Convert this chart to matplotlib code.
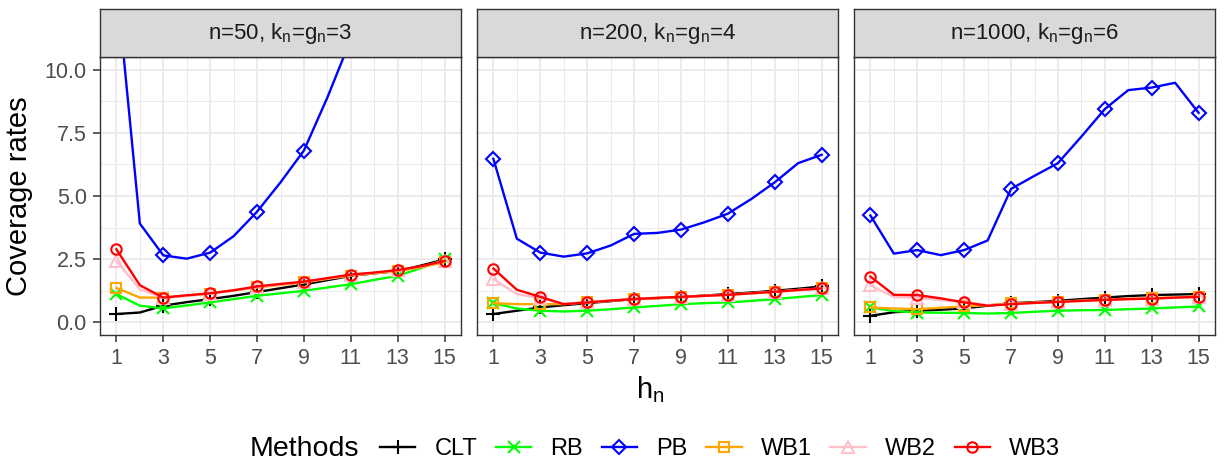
import numpy as np
import matplotlib
matplotlib.use("Agg")
import matplotlib.pyplot as plt
from matplotlib.lines import Line2D

plt.rcParams['font.family'] = ['Liberation Sans', 'DejaVu Sans']
plt.rcParams['mathtext.fontset'] = 'custom'
plt.rcParams['mathtext.rm'] = 'Liberation Sans'

h = np.arange(1, 16)

titles = [r'n=50, k$_\mathregular{n}$=g$_\mathregular{n}$=3',
          r'n=200, k$_\mathregular{n}$=g$_\mathregular{n}$=4',
          r'n=1000, k$_\mathregular{n}$=g$_\mathregular{n}$=6']
methods = ['CLT', 'RB', 'PB', 'WB1', 'WB2', 'WB3']

# n=50
clt1 = [0.33, 0.39, 0.66, 0.80, 0.92, 1.05, 1.20, 1.35, 1.50, 1.67, 1.84, 1.94, 2.03, 2.25, 2.49]
rb1 = [1.12, 0.66, 0.55, 0.67, 0.79, 0.92, 1.05, 1.15, 1.25, 1.38, 1.51, 1.68, 1.84, 2.15, 2.49]
pb1 = [13.5, 3.91, 2.65, 2.52, 2.76, 3.41, 4.38, 5.54, 6.80, 8.9, 11.2, 13.8, 16.5, 19.5, 23.0]
wb1_1 = [1.36, 0.98, 0.98, 1.06, 1.14, 1.26, 1.38, 1.48, 1.58, 1.72, 1.85, 1.94, 2.02, 2.18, 2.38]
wb2_1 = [2.43, 1.31, 0.97, 1.05, 1.14, 1.26, 1.40, 1.50, 1.60, 1.74, 1.88, 1.96, 2.06, 2.21, 2.43]
wb3_1 = [2.89, 1.47, 0.98, 1.07, 1.15, 1.27, 1.42, 1.52, 1.61, 1.75, 1.89, 1.97, 2.07, 2.22, 2.43]

# n=200
clt2 = [0.33, 0.46, 0.59, 0.68, 0.76, 0.84, 0.92, 0.96, 1.00, 1.06, 1.12, 1.18, 1.25, 1.33, 1.42]
rb2 = [0.76, 0.55, 0.46, 0.43, 0.46, 0.52, 0.59, 0.65, 0.72, 0.76, 0.79, 0.85, 0.92, 1.00, 1.08]
pb2 = [6.47, 3.31, 2.76, 2.60, 2.73, 3.04, 3.50, 3.54, 3.67, 3.96, 4.30, 4.88, 5.54, 6.30, 6.63]
wb1_2 = [0.76, 0.72, 0.72, 0.72, 0.80, 0.86, 0.92, 0.96, 1.00, 1.05, 1.09, 1.15, 1.21, 1.28, 1.34]
wb2_2 = [1.71, 1.12, 0.95, 0.74, 0.79, 0.86, 0.92, 0.97, 1.01, 1.05, 1.09, 1.15, 1.21, 1.28, 1.34]
wb3_2 = [2.13, 1.29, 1.01, 0.72, 0.79, 0.86, 0.92, 0.97, 1.01, 1.05, 1.09, 1.15, 1.21, 1.28, 1.34]

# n=1000
clt3 = [0.26, 0.40, 0.46, 0.50, 0.55, 0.66, 0.76, 0.80, 0.85, 0.92, 0.98, 1.04, 1.08, 1.10, 1.12]
rb3 = [0.59, 0.45, 0.39, 0.38, 0.37, 0.35, 0.37, 0.42, 0.46, 0.48, 0.49, 0.52, 0.55, 0.59, 0.63]
pb3 = [4.23, 2.72, 2.86, 2.66, 2.86, 3.24, 5.28, 5.80, 6.30, 7.35, 8.44, 9.19, 9.29, 9.48, 8.29]
wb1_3 = [0.59, 0.55, 0.52, 0.58, 0.63, 0.68, 0.75, 0.78, 0.82, 0.86, 0.90, 0.93, 0.96, 0.99, 1.02]
wb2_3 = [1.47, 1.00, 0.98, 0.88, 0.80, 0.68, 0.72, 0.77, 0.81, 0.85, 0.89, 0.92, 0.94, 0.98, 1.01]
wb3_3 = [1.81, 1.09, 1.08, 0.95, 0.79, 0.66, 0.72, 0.77, 0.81, 0.85, 0.89, 0.92, 0.94, 0.98, 1.01]

panels = [[clt1, rb1, pb1, wb1_1, wb2_1, wb3_1],
          [clt2, rb2, pb2, wb1_2, wb2_2, wb3_2],
          [clt3, rb3, pb3, wb1_3, wb2_3, wb3_3]]

colors = ['black', '#00FF00', '#0000FF', '#FFA500', '#FFC0CB', '#FF0000']
markers = ['+', 'x', 'D', 's', '^', 'o']
msizes = [10, 8, 7, 7.5, 8, 7.5]

fig = plt.figure(figsize=(12.25, 4.62), dpi=100)
W, H = 1225, 462
lefts = [100, 477, 854]
pw = 361
ptop, pbot, stop = 57, 335, 9

for i, data in enumerate(panels):
    ax = fig.add_axes([lefts[i] / W, 1 - pbot / H, pw / W, (pbot - ptop) / H])
    for vals, c, m, ms in zip(data, colors, markers, msizes):
        ax.plot(h, vals, color=c, lw=1.7, marker=m, ms=ms, mew=1.5,
                mfc='none', markevery=slice(0, None, 2))
    ax.set_xlim(0.3, 15.7)
    ax.set_ylim(-0.5, 10.5)
    ax.set_xticks(range(1, 16, 2))
    ax.set_xticks(range(2, 15, 2), minor=True)
    ax.set_yticks([0, 2.5, 5, 7.5, 10])
    ax.set_yticks([1.25, 3.75, 6.25, 8.75], minor=True)
    ax.grid(True, which='major', color='#EBEBEB', lw=1.3, zorder=0)
    ax.grid(True, which='minor', color='#EBEBEB', lw=0.7, zorder=0)
    ax.set_axisbelow(True)
    for s in ax.spines.values():
        s.set_color('#333333')
        s.set_linewidth(1.0)
    ax.tick_params(which='major', length=5, width=1.1, color='#333333',
                   labelsize=15.5, labelcolor='#4D4D4D', pad=4.5)
    ax.tick_params(which='minor', length=0)
    if i == 0:
        ax.set_yticklabels(['0.0', '2.5', '5.0', '7.5', '10.0'])
    else:
        ax.tick_params(axis='y', which='major', length=0, labelleft=False)

    sax = fig.add_axes([lefts[i] / W, 1 - ptop / H, pw / W, (ptop - stop) / H])
    sax.set_facecolor('#D9D9D9')
    sax.set_xticks([])
    sax.set_yticks([])
    for s in sax.spines.values():
        s.set_color('#333333')
        s.set_linewidth(1.0)
    sax.text(0.5, 0.5, titles[i], ha='center', va='center', fontsize=16,
             color='#1A1A1A', transform=sax.transAxes)

fig.text(650 / W, 1 - 390 / H, r'h$_\mathregular{n}$', ha='center', va='center', fontsize=21)
fig.text(19 / W, 1 - 196 / H, 'Coverage rates', ha='center', va='center',
         rotation=90, fontsize=21)

fig.text(250 / W, 1 - 449 / H, 'Methods', ha='left', va='center', fontsize=20.5)
handles = [Line2D([], [], color=c, lw=1.7, marker=m, ms=ms, mew=1.5, mfc='none')
           for c, m, ms in zip(colors, markers, msizes)]
fig.legend(handles, methods, loc='center left', bbox_to_anchor=(380 / W, 1 - 449 / H),
           ncol=6, frameon=False, fontsize=17, handlelength=1.5, handletextpad=0.8,
           columnspacing=0.8, borderpad=0, borderaxespad=0)

fig.savefig('out.png', dpi=100)
